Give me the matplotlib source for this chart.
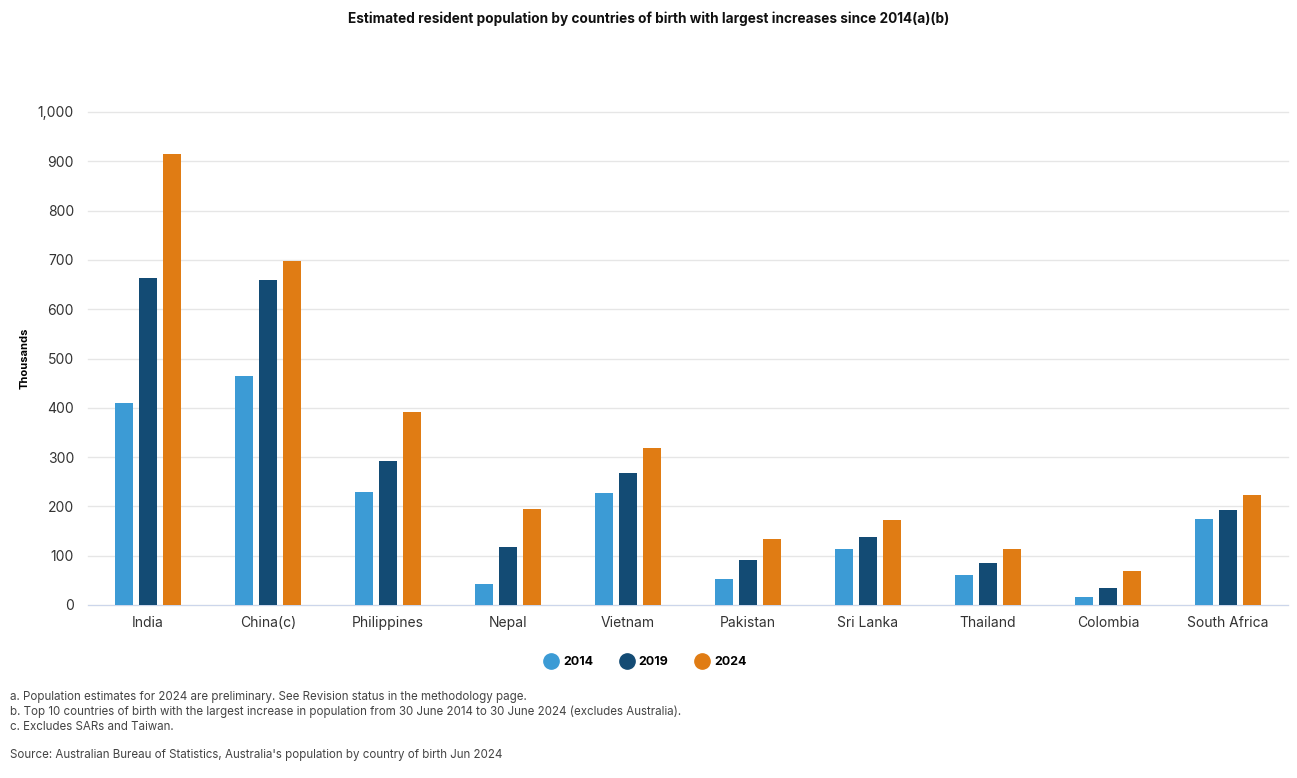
import matplotlib
matplotlib.use("Agg")
import matplotlib.pyplot as plt
from matplotlib.lines import Line2D
import numpy as np

plt.rcParams['font.family'] = ['Inter', 'DejaVu Sans']

countries = ["India", "China(c)", "Philippines", "Nepal", "Vietnam", "Pakistan",
             "Sri Lanka", "Thailand", "Colombia", "South Africa"]
years = ["2014", "2019", "2024"]
v2014 = [410, 464, 229, 43, 227, 53, 114, 61, 16, 174]
v2019 = [663, 659, 292, 118, 268, 91, 138, 85, 34, 193]
v2024 = [915, 698, 391, 195, 318, 134, 172, 114, 69, 223]
yticks = [0, 100, 200, 300, 400, 500, 600, 700, 800, 900, 1000]

colors = ["#3C9BD5", "#134B74", "#E07C14"]
series = [v2014, v2019, v2024]

fig = plt.figure(figsize=(12.97, 7.78), dpi=100)
ax = fig.add_axes([88/1297, 1-605/778, 1200/1297, (605-112)/778])

x = np.arange(len(countries))
w = 0.15
offsets = [-0.2, 0.0, 0.2]
for vals, c, off in zip(series, colors, offsets):
    ax.bar(x + off, vals, width=w, color=c, zorder=3)

ax.set_xlim(-0.5, len(countries) - 0.5)
ax.set_ylim(0, 1000)
ax.set_yticks(yticks)
ax.set_yticklabels([f"{t:,}" for t in yticks], fontsize=10, color="#333333")
ax.set_xticks(x)
ax.set_xticklabels(countries, fontsize=10, color="#333333")
ax.tick_params(axis='both', length=0)
ax.tick_params(axis='y', pad=10)
ax.tick_params(axis='x', pad=8)
ax.grid(axis='y', color="#e6e6e6", linewidth=1, zorder=0, clip_on=False)
for s in ["top", "right", "left"]:
    ax.spines[s].set_visible(False)
ax.spines["bottom"].set_color("#ccd6eb")
ax.set_ylabel("Thousands", fontsize=8, fontweight='bold')
ax.yaxis.set_label_coords(-58/1200, 0.5)

fig.text(0.5, 1-19/778, "Estimated resident population by countries of birth with largest increases since 2014(a)(b)",
         ha='center', va='center', fontsize=9.8, fontweight='bold', color="#111111")

handles = [Line2D([0], [0], marker='o', linestyle='', markersize=11, markerfacecolor=c,
                  markeredgecolor=c) for c in colors]
fig.legend(handles, years, loc='center', bbox_to_anchor=(645/1297, 1-662/778), ncol=3,
           frameon=False, handletextpad=0.36, columnspacing=2.1, handlelength=1.2,
           prop={'weight': 'bold', 'size': 9})

notes = ["a. Population estimates for 2024 are preliminary. See Revision status in the methodology page.",
         "b. Top 10 countries of birth with the largest increase in population from 30 June 2014 to 30 June 2024 (excludes Australia).",
         "c. Excludes SARs and Taiwan."]
for i, n in enumerate(notes):
    fig.text(10/1297, 1-(697 + i*15)/778, n, fontsize=8.3, color="#444444", va='center')
fig.text(10/1297, 1-755/778, "Source: Australian Bureau of Statistics, Australia's population by country of birth Jun 2024",
         fontsize=8.3, color="#444444", va='center')

fig.savefig("out.png", dpi=100, facecolor="white")
